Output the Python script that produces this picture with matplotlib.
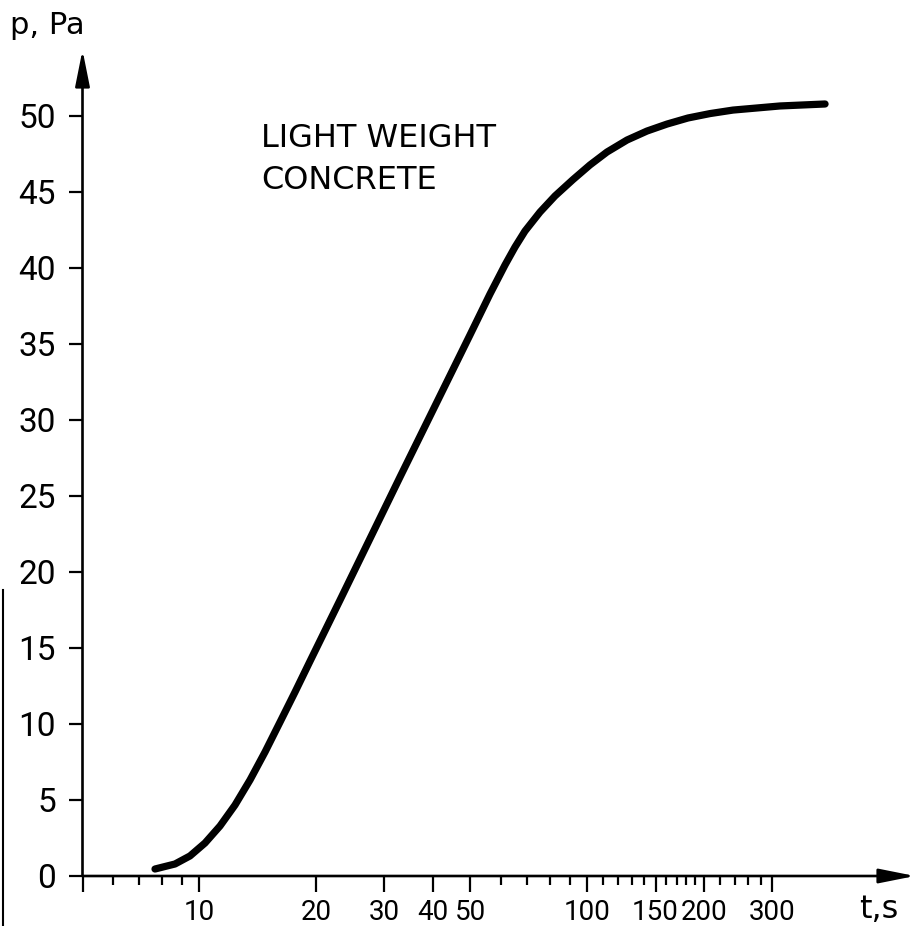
import math
import matplotlib
matplotlib.use("Agg")
import matplotlib.pyplot as plt
from matplotlib.lines import Line2D

# ---- data ----
t_vals = [7.688, 8.657, 9.463, 10.344, 11.308, 12.362, 13.514, 14.773,
          16.149, 17.654, 19.299, 23.06, 32.91, 49.84, 56.14, 61.37, 65.12,
          69.09, 75.53, 82.56, 91.88, 101.6, 112.4, 126.6, 142.5, 160.5,
          181.8, 207.2, 237.4, 313.8, 410.0]
p_vals = [0.46, 0.79, 1.32, 2.17, 3.29, 4.67, 6.32, 8.16,
          10.13, 12.11, 14.14, 18.16, 26.25, 35.59, 38.29, 40.2, 41.38,
          42.43, 43.68, 44.74, 45.82, 46.78, 47.63, 48.42, 49.01, 49.47,
          49.87, 50.16, 50.39, 50.66, 50.79]

y_ticks = [0, 5, 10, 15, 20, 25, 30, 35, 40, 45, 50]
x_major = [5, 10, 20, 30, 40, 50, 100, 150, 200, 300]
x_major_labels = ["", "10", "20", "30", "40", "50", "100", "150", "200", "300"]
x_minor = [6, 7, 8, 9, 60, 70, 80, 90, 110, 120, 130, 140,
           160, 170, 180, 190, 220, 240, 260, 280]

W, H = 917, 926
fig = plt.figure(figsize=(W / 100, H / 100), dpi=100)

# axes placement in pixels
left_px, right_px, bottom_px, top_px = 82.5, 915, 876, 50
ax = fig.add_axes([left_px / W, (H - bottom_px) / H,
                   (right_px - left_px) / W, (bottom_px - top_px) / H])

ax.set_xscale("log")
dec = (right_px - left_px) / 388.0
ax.set_xlim(5, 10 ** (math.log10(5) + dec))
ax.set_ylim(0, (bottom_px - top_px) / 15.2)

ax.plot(t_vals, p_vals, color="black", lw=5.2, solid_capstyle="round",
        solid_joinstyle="round", clip_on=False)

for s in ["top", "right", "left", "bottom"]:
    ax.spines[s].set_visible(False)

# axes with arrows
arrow_kw = dict(arrowstyle="-|>,head_length=1.1,head_width=0.22",
                mutation_scale=20, lw=1.9, color="black",
                shrinkA=0, shrinkB=0)
ax.annotate("", xy=(1, 0), xytext=(0, 0), xycoords="axes fraction",
            textcoords="axes fraction", arrowprops=arrow_kw)
ax.annotate("", xy=(0, 1), xytext=(0, 0), xycoords="axes fraction",
            textcoords="axes fraction", arrowprops=arrow_kw)

# ticks
ax.set_yticks(y_ticks)
ax.set_yticklabels([str(v) for v in y_ticks])
ax.set_xticks(x_major)
ax.set_xticklabels(x_major_labels)
ax.set_xticks(x_minor, minor=True)
ax.xaxis.set_minor_formatter(matplotlib.ticker.NullFormatter())

ax.tick_params(axis="y", direction="out", length=10, width=1.6, pad=9,
               labelsize=24, labelfontfamily="Roboto")
ax.tick_params(axis="x", which="major", direction="out", length=11.5,
               width=1.6, pad=5, labelsize=20, labelfontfamily="Roboto")
ax.tick_params(axis="x", which="minor", direction="out", length=6.5,
               width=1.6)


def px(x, y):
    return x / W, 1 - y / H


fig.text(*px(10, 34), "p, Pa", fontsize=22, family="DejaVu Sans",
         va="baseline", ha="left")
fig.text(*px(859, 918), "t,s", fontsize=23, family="DejaVu Sans",
         va="baseline", ha="left")
fig.text(*px(261, 147), "LIGHT WEIGHT", fontsize=23, family="DejaVu Sans",
         va="baseline", ha="left")
fig.text(*px(261, 189), "CONCRETE", fontsize=23, family="DejaVu Sans",
         va="baseline", ha="left")

# scan border line at far left
fig.add_artist(Line2D([2.5 / W, 2.5 / W], [0, 1 - 590 / H],
                      transform=fig.transFigure, color="black", lw=1.5))

fig.savefig("out.png", dpi=100)
